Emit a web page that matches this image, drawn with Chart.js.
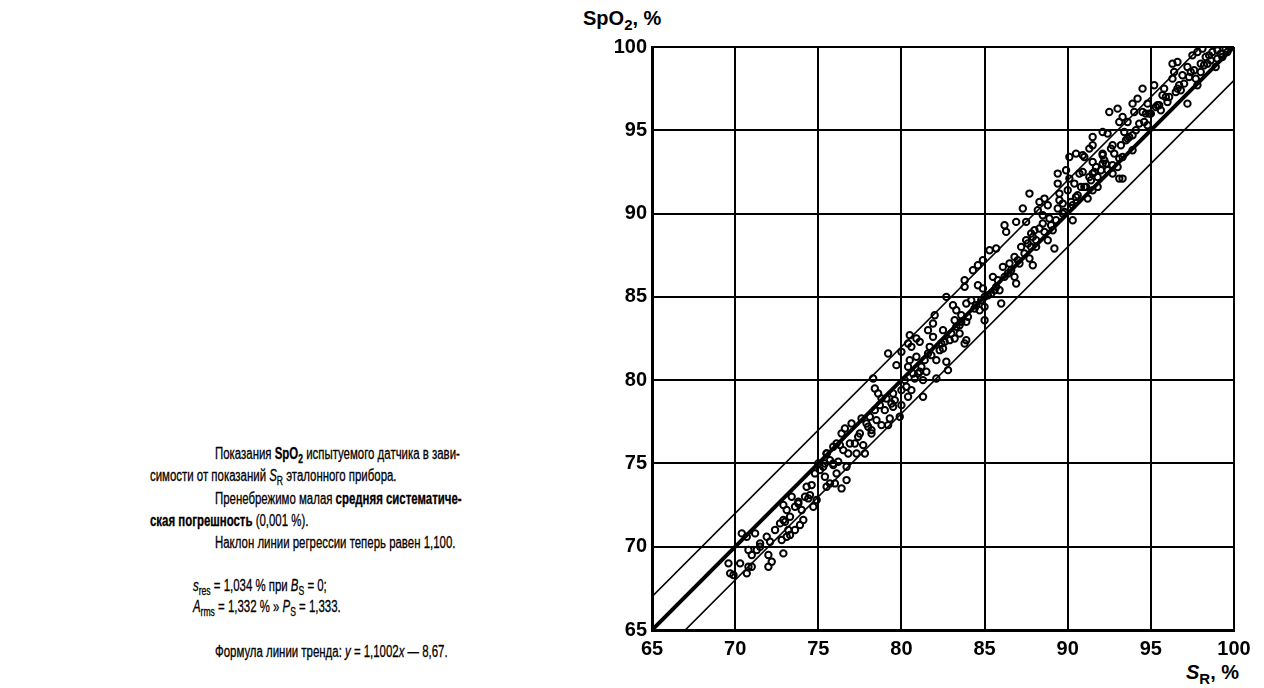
<!DOCTYPE html>
<html lang="ru">
<head>
<meta charset="utf-8">
<script src="https://cdn.jsdelivr.net/npm/chart.js@4.4.1/dist/chart.umd.min.js"></script>
<style>
  body { margin: 0; background: #fff; width: 1264px; height: 688px; overflow: hidden; position: relative;
         font-family: "Liberation Sans", Arial, sans-serif; color: #000; }
  #wrap { position: absolute; left: 560px; top: 0; width: 704px; height: 688px; }
  .ln { position: absolute; font-size: 16px; white-space: nowrap; transform-origin: 0 50%;
        line-height: 20px; -webkit-text-stroke: 0.3px #000; }
  .ax { position: absolute; font-size: 20px; font-weight: bold; white-space: nowrap; }
  sub { font-size: 0.75em; vertical-align: -0.3em; line-height: 0; }
</style>
</head>
<body>
<div class="ln" style="left:215px; top:444px">Показания <b>SpO<sub>2</sub></b> испытуемого датчика в зави-</div>
<div class="ln" style="left:150px; top:466px">симости от показаний <i>S</i><sub>R</sub> эталонного прибора.</div>
<div class="ln" style="left:215px; top:489px">Пренебрежимо малая <b>средняя систематиче-</b></div>
<div class="ln" style="left:150px; top:511px"><b>ская погрешность</b> (0,001 %).</div>
<div class="ln" style="left:215px; top:533px">Наклон линии регрессии теперь равен 1,100.</div>
<div class="ln" style="left:193px; top:576px"><i>s</i><sub>res</sub> = 1,034 % при <i>B</i><sub>S</sub> = 0;</div>
<div class="ln" style="left:193px; top:597px"><i>A</i><sub>rms</sub> = 1,332 % » <i>P</i><sub>S</sub> = 1,333.</div>
<div class="ln" style="left:215px; top:642px">Формула линии тренда: <i>y</i> = 1,1002<i>x</i> — 8,67.</div>

<div class="ax" style="left:583px; top:7px">SpO<sub>2</sub>, %</div>
<div class="ax" style="left:1186px; top:661px"><i>S</i><sub>R</sub>, %</div>

<div id="wrap"><canvas id="chart"></canvas></div>

<script>
// S_R, % (reference) and SpO2, % (sensor under test)
const sR = [
  69.6,69.7,69.9,70.4,70.7,71.2,70.8,71.0,70.8,70.7,71.0,71.5,71.9,72.0,72.0,72.2,72.1,72.9,72.8,72.7,
  73.1,73.3,73.6,73.9,74.1,72.9,73.1,73.3,72.9,73.6,73.4,73.8,74.5,74.7,74.9,74.6,74.3,74.8,75.1,75.0,
  75.3,75.4,75.5,75.7,76.0,76.4,76.1,76.7,76.7,75.5,75.9,76.3,76.5,75.7,75.9,
  75.4,75.9,75.5,76.1,76.4,76.6,77.0,76.9,77.3,77.7,77.8,77.5,77.9,78.2,78.1,77.6,78.4,78.7,78.8,79.2,
  79.3,78.8,79.1,78.4,78.6,79.5,79.5,79.9,80.0,80.0,80.4,80.6,81.3,78.3,79.2,79.7,80.0,80.4,80.5,80.7,
  80.6,80.9,81.1,81.3,81.5,81.6,81.7,82.1,82.1,81.9,80.5,80.9,81.1,80.4,81.6,81.9,82.0,82.5,82.5,82.7,
  82.8,82.9,83.2,83.3,83.5,83.2,83.6,83.9,83.9,83.8,82.7,83.1,83.3,83.9,84.5,84.7,85.0,84.8,
  83.8,83.8,84.3,84.6,84.9,84.6,85.0,85.0,85.5,85.3,85.7,85.9,85.7,86.0,86.1,86.2,86.3,86.9,87.3,87.5,
  87.7,88.2,88.3,88.6,88.8,88.5,86.5,86.8,86.9,87.1,87.2,87.5,87.9,87.7,87.9,88.0,88.3,88.5,88.8,89.2,
  88.9,89.4,89.5,89.4,89.4,89.5,89.7,90.3,89.9,90.1,90.4,90.7,90.5,90.3,91.0,91.2,91.5,91.8,91.8,91.5,
  90.1,90.5,91.0,92.1,92.1,92.4,92.7,93.0,93.3,93.3,
  90.9,90.9,91.3,91.5,91.5,91.6,92.1,92.1,92.4,92.5,92.7,93.0,93.1,93.3,93.4,93.6,93.9,93.9,94.0,94.2,
  94.5,94.5,94.8,94.8,94.9,95.2,95.4,95.6,95.7,95.8,96.0,96.3,96.4,96.6,96.7,96.9,97.2,96.3,96.6,97.2,
  97.4,97.7,97.8,97.5,97.8,98.1,98.3,98.4,98.7,99.0,99.2,99.5,98.9,98.2,98.0,93.6,93.9,93.1,91.5,92.7,
  93.1,
  71.5,72.4,73.0,73.8,74.2,76.2,76.8,77.2,78.0,78.5,79.0,79.6,80.3,80.8,81.2,81.8,82.3,82.6,83.0,83.5,
  84.0,84.4,85.2,85.6,86.2,86.6,87.0,87.4,87.8,88.1,88.6,89.0,89.3,89.8,90.2,90.6,91.1,91.4,92.0,92.3,
  92.8,93.2,93.7,94.1,94.6,95.0,95.5,96.1,96.5,97.0,97.6,98.0,98.5,99.0,
  87.6,87.8,88.1,86.8,86.4,85.8,85.4,84.9,84.2,90.8,91.3,91.7,92.2,92.6,89.1,89.7,90.0,93.5,94.3,94.7,
  95.3,95.9,96.8,97.3,98.6,99.3,99.6,77.4,78.2,79.4,80.2,81.0,81.4,82.4,83.6,73.2,74.0,74.4,70.3,71.3
];
const spO2 = [
  69.0,68.4,68.3,70.8,70.6,70.8,69.8,69.5,68.8,68.4,68.8,70.0,70.6,69.5,68.8,69.1,70.3,69.6,70.4,71.4,
  70.6,70.7,71.0,71.3,71.6,72.5,72.2,71.8,71.6,72.4,73.0,72.7,73.1,72.4,72.8,73.7,73.6,74.4,74.6,75.0,
  74.8,74.2,73.6,73.8,73.8,73.5,74.4,74.0,74.8,75.6,76.0,76.1,75.8,75.2,74.9,
  75.0,75.0,75.6,76.2,76.8,77.1,77.4,76.2,75.6,76.1,75.6,76.8,77.4,76.8,77.8,77.7,78.2,78.5,77.3,77.3,
  77.7,78.9,78.9,79.5,79.2,79.2,78.4,77.8,78.5,79.4,79.0,79.4,79.0,80.1,81.6,80.9,81.7,80.8,81.2,80.4,
  82.0,81.4,80.5,80.0,80.5,81.6,82.0,81.2,80.1,82.6,82.7,82.5,82.3,82.2,83.0,83.4,83.9,83.0,81.9,81.1,
  80.6,82.4,82.5,83.2,82.8,83.6,83.9,83.5,82.4,82.2,85.0,84.5,84.2,84.6,84.5,84.2,83.6,84.8,
  86.0,85.6,86.6,86.9,87.2,85.7,85.0,84.4,86.2,87.8,87.9,85.4,85.6,84.6,86.8,89.3,88.9,89.5,90.3,89.5,
  91.2,90.2,90.7,90.9,90.5,89.9,87.0,86.2,85.8,87.0,88.0,88.4,88.6,87.3,86.9,89.0,89.1,89.4,88.4,87.9,
  89.7,90.3,90.8,92.4,91.8,91.2,90.0,89.6,92.6,92.1,91.8,92.4,91.0,90.5,91.6,90.9,92.4,92.2,91.6,91.4,
  93.4,93.6,93.4,93.5,93.0,92.6,92.4,92.8,92.1,93.4,
  93.5,92.5,93.9,94.1,94.6,92.5,93.6,94.9,94.8,96.1,94.1,96.3,93.3,95.8,94.9,95.5,96.6,93.8,96.1,96.9,
  97.5,96.1,96.6,95.3,96.0,97.7,96.5,96.2,97.1,97.5,96.7,98.1,98.5,97.5,97.7,98.3,96.6,99.0,99.1,98.8,
  98.5,98.1,97.7,99.5,99.7,99.9,99.4,99.0,99.7,99.3,99.6,99.9,98.8,98.9,98.5,94.5,94.7,95.5,93.1,92.9,
  92.1,
  70.2,71.0,71.5,72.6,73.0,75.1,75.6,76.2,77.2,77.6,78.2,78.8,79.6,80.1,80.8,81.5,81.8,82.3,82.8,83.3,
  83.8,84.3,85.1,85.4,86.2,86.6,87.2,87.6,88.0,88.4,88.9,89.3,89.6,90.1,90.7,91.1,91.6,92.0,92.6,93.0,
  93.6,94.1,94.6,95.0,95.5,96.0,96.5,97.0,97.3,97.8,98.6,99.0,99.5,99.8,
  88.2,88.8,88.0,87.4,86.4,86.0,85.2,85.5,84.8,91.6,92.2,92.8,93.2,93.9,89.0,90.6,91.4,94.4,95.4,96.0,
  96.4,97.0,97.4,98.2,99.2,99.4,99.7,76.6,77.0,78.6,80.0,80.4,81.2,82.2,83.5,71.0,72.2,72.9,69.0,69.8
];
const axisMin = 65, axisMax = 100, axisStep = 5;
// reference lines: SpO2 = S_R + offset
const lineX = [63, 100];
const lineOffsets = [0, 2, -2];
const lineWidths = [4, 1.6, 1.6];

// narrow type of the original: fit the first caption line to its right edge
const textRight = 460;
const first = document.querySelector('.ln');
const textScale = (textRight - first.offsetLeft) / first.scrollWidth;
document.querySelectorAll('.ln').forEach(el => { el.style.transform = 'scaleX(' + textScale + ')'; });

const points = sR.map((x, i) => ({ x: x, y: spO2[i] }));
const refLines = lineOffsets.map((off, k) => ({
  type: 'line',
  data: lineX.map(x => ({ x: x, y: x + off })),
  borderColor: '#000',
  borderWidth: lineWidths[k],
  pointRadius: 0,
  fill: false,
  order: 2
}));

const tickFont = { family: '"Liberation Sans", Arial, sans-serif', size: 20, weight: 'bold' };

new Chart(document.getElementById('chart'), {
  type: 'scatter',
  data: {
    datasets: [{
      data: points,
      pointStyle: 'circle',
      pointRadius: 3.2,
      borderWidth: 2,
      borderColor: '#000',
      backgroundColor: 'rgba(0,0,0,0)',
      order: 1
    }, ...refLines]
  },
  options: {
    responsive: true,
    maintainAspectRatio: false,
    animation: false,
    events: [],
    layout: { padding: { top: 47, right: 30, left: 0, bottom: 0 } },
    plugins: { legend: { display: false }, tooltip: { enabled: false } },
    scales: {
      x: {
        type: 'linear', min: axisMin, max: axisMax,
        grid: { color: '#000', lineWidth: 2, drawTicks: false },
        border: { display: true, color: '#000', width: 3 },
        ticks: { stepSize: axisStep, color: '#000', font: tickFont, padding: 7, maxRotation: 0 },
        afterFit: s => { s.height = 58; }
      },
      y: {
        type: 'linear', min: axisMin, max: axisMax,
        grid: { color: '#000', lineWidth: 2, drawTicks: false },
        border: { display: true, color: '#000', width: 3 },
        ticks: { stepSize: axisStep, color: '#000', font: tickFont, padding: 5 },
        afterFit: s => { s.width = 92; }
      }
    }
  }
});
</script>
</body>
</html>
